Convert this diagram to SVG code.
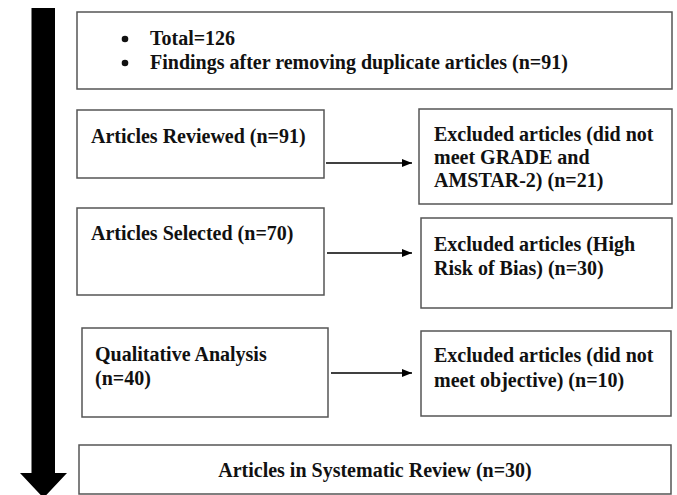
<svg xmlns="http://www.w3.org/2000/svg" width="677" height="495" viewBox="0 0 677 495">
<style>
.box{fill:#fff;stroke:#555;stroke-width:1.5}
.t{font-family:"Liberation Serif","Times New Roman",serif;font-weight:bold;font-size:20px;fill:#111}
.c{stroke:#000;stroke-width:1.5;fill:none}
</style>
<defs>
<marker id="ah" markerWidth="10" markerHeight="8" refX="10" refY="4" orient="auto" markerUnits="userSpaceOnUse">
<path d="M0,0 L10,4 L0,8 Z" fill="#000"/>
</marker>
</defs>
<rect width="677" height="495" fill="#fff"/>
<g id="flow-arrow">
<path d="M31.5,8 H55 V473 H67 L43.5,498 L20,473 H31.5 Z" fill="#000"/>
</g>
<g id="n-total">
<rect class="box" x="77" y="12" width="595" height="77"/>
<circle cx="125" cy="39" r="3.3" fill="#111"/>
<circle cx="125" cy="63" r="3.3" fill="#111"/>
<text class="t" x="150" y="45">Total=126</text>
<text class="t" x="150" y="69">Findings after removing duplicate articles (n=91)</text>
</g>
<g id="n-reviewed">
<rect class="box" x="77" y="110" width="247" height="68"/>
<text class="t" x="91" y="143">Articles Reviewed (n=91)</text>
</g>
<g id="n-excl1">
<rect class="box" x="419" y="109" width="253" height="95"/>
<text class="t" x="434" y="141">Excluded articles (did not</text>
<text class="t" x="434" y="164">meet GRADE and</text>
<text class="t" x="434" y="187">AMSTAR-2) (n=21)</text>
</g>
<g id="n-selected">
<rect class="box" x="77" y="208" width="247" height="87"/>
<text class="t" x="91" y="240">Articles Selected (n=70)</text>
</g>
<g id="n-excl2">
<rect class="box" x="421" y="218" width="251" height="90"/>
<text class="t" x="434" y="251">Excluded articles (High</text>
<text class="t" x="434" y="275">Risk of Bias) (n=30)</text>
</g>
<g id="n-qual">
<rect class="box" x="82" y="328" width="246" height="89"/>
<text class="t" x="95" y="361">Qualitative Analysis</text>
<text class="t" x="95" y="385">(n=40)</text>
</g>
<g id="n-excl3">
<rect class="box" x="421" y="331" width="250" height="85"/>
<text class="t" x="434" y="362">Excluded articles (did not</text>
<text class="t" x="434" y="387">meet objective) (n=10)</text>
</g>
<g id="n-final">
<rect class="box" x="79" y="445" width="592" height="49"/>
<text class="t" x="375" y="477" text-anchor="middle">Articles in Systematic Review (n=30)</text>
</g>
<g id="connectors">
<line class="c" x1="326" y1="163" x2="412" y2="163" marker-end="url(#ah)"/>
<line class="c" x1="327" y1="253" x2="412" y2="253" marker-end="url(#ah)"/>
<line class="c" x1="331" y1="373" x2="412" y2="373" marker-end="url(#ah)"/>
</g>
</svg>
